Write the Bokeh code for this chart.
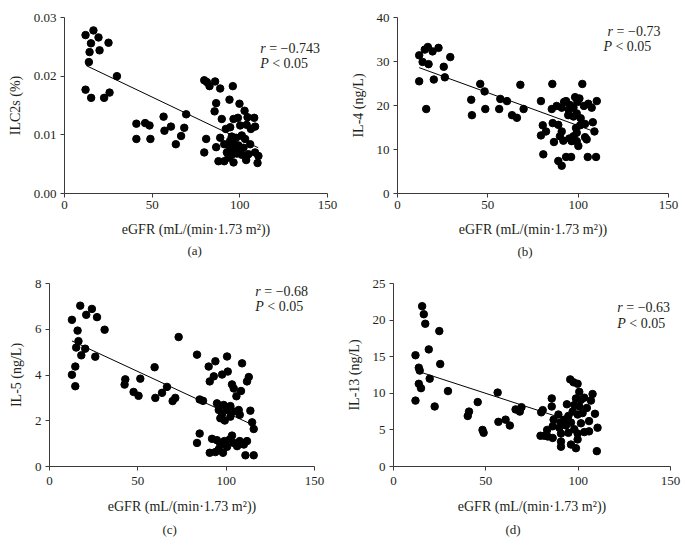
from bokeh.plotting import figure
from bokeh.layouts import column, row
from bokeh.models import Range1d, FixedTicker, PrintfTickFormatter, Label, Title
from bokeh.embed import file_html
from bokeh.resources import INLINE

FONT = "Liberation Serif"

# ---------------- data ----------------
x_ticks = [0, 50, 100, 150]

# (a) ILC2s (%)
a_egfr = [12.0, 16.5, 19.4, 15.1, 25.1, 14.3, 20.0, 13.9, 29.9, 12.0, 15.2, 22.6, 25.7,
          41.0, 41.0, 46.0, 48.5, 49.0, 56.5, 57.0, 60.7, 63.5, 66.5, 68.3, 69.4,
          79.7, 81.2, 82.7, 85.9, 88.8, 96.0, 86.5, 85.6, 94.1, 99.8, 102.7, 89.7, 96.4, 98.9,
          104.4, 108.2, 92.0, 94.5, 100.2, 103.9, 106.3, 108.7, 80.8, 88.8, 95.4, 97.9, 101.1,
          103.0, 86.5, 91.1, 94.1, 96.4, 99.2, 102.1, 105.9, 79.7, 92.6, 95.4, 98.3, 101.1,
          104.9, 108.7, 110.6, 87.8, 91.1, 96.4, 103.6, 110.1, 93.5, 97.3, 100.2, 94.5]
a_ilc2 = [0.0270, 0.0278, 0.0266, 0.0256, 0.0257, 0.0241, 0.0244, 0.0224, 0.0200, 0.0177, 0.0163, 0.0163, 0.0172,
          0.0119, 0.0093, 0.0120, 0.0116, 0.0093, 0.0131, 0.0107, 0.0114, 0.0084, 0.0098, 0.0112, 0.0135,
          0.0193, 0.0190, 0.0183, 0.0191, 0.0179, 0.0183, 0.0154, 0.0140, 0.0160, 0.0153, 0.0141, 0.0127, 0.0127, 0.0129,
          0.0130, 0.0129, 0.0110, 0.0113, 0.0116, 0.0117, 0.0110, 0.0114, 0.0093, 0.0095, 0.0097, 0.0095, 0.0099,
          0.0093, 0.0079, 0.0084, 0.0079, 0.0086, 0.0082, 0.0078, 0.0084, 0.0070, 0.0070, 0.0066, 0.0068, 0.0066,
          0.0067, 0.0070, 0.0064, 0.0055, 0.0055, 0.0053, 0.0057, 0.0052, 0.0061, 0.0075, 0.0073, 0.0090]
a_fit_x = [12.4, 110.5]
a_fit_y = [0.0218, 0.0078]
a_yticks = [0.0, 0.01, 0.02, 0.03]

# (b) IL-4 (ng/L)
b_egfr = [12.0, 15.1, 16.8, 19.4, 22.7, 29.2, 13.9, 17.2, 25.6, 12.0, 20.1, 26.2, 15.9,
          40.8, 41.2, 45.8, 48.2, 48.6, 56.3, 56.9, 60.6, 63.4, 66.1, 68.0, 69.8,
          85.7, 102.3, 79.4, 88.1, 85.4, 90.9, 93.3, 95.5, 98.3, 99.6, 100.7, 103.2, 105.6, 107.5,
          110.3, 97.4, 94.8, 99.2, 97.4, 94.5, 101.4, 103.8, 108.1, 109.0, 80.4, 82.2, 79.4, 85.9,
          89.0, 90.9, 89.9, 86.6, 91.8, 95.1, 97.4, 99.2, 98.8, 101.1, 96.4, 99.2, 100.1, 103.8,
          104.7, 80.7, 89.0, 90.9, 93.3, 96.1, 105.3, 109.9, 92.2]
b_il4 = [31.4, 32.7, 33.3, 32.3, 33.1, 31.0, 29.9, 29.4, 28.8, 25.5, 25.9, 26.4, 19.2,
         21.3, 17.8, 24.9, 23.2, 19.2, 19.2, 21.5, 21.0, 17.8, 17.2, 24.7, 19.2,
         24.9, 24.9, 21.0, 19.9, 19.2, 19.5, 21.0, 20.1, 21.9, 20.8, 21.6, 19.9, 20.4, 19.5,
         21.0, 19.5, 19.0, 18.2, 17.5, 17.8, 17.1, 15.8, 16.2, 14.1, 15.5, 14.1, 13.2, 16.0,
         15.6, 14.1, 13.0, 11.7, 12.0, 12.5, 13.0, 13.8, 14.9, 15.5, 11.9, 11.9, 10.8, 12.8,
         12.3, 8.9, 7.4, 6.3, 8.3, 8.3, 8.3, 8.3, 20.8]
b_fit_x = [12.0, 107.5]
b_fit_y = [28.6, 14.3]
b_yticks = [0, 10, 20, 30, 40]

# (c) IL-5 (ng/L)
c_egfr = [12.7, 17.4, 20.8, 24.0, 26.9, 15.9, 31.2, 16.4, 15.1, 20.2, 18.0, 25.9, 14.6, 12.7, 14.6,
          42.9, 42.5, 47.6, 50.4, 51.4, 59.5, 59.9, 63.7, 66.5, 69.7, 71.2, 73.1,
          83.5, 90.1, 93.9, 100.5, 100.9, 97.7, 93.0, 90.7, 103.3, 104.3, 109.0, 112.8, 111.8,
          108.4, 105.8, 85.0, 86.9, 94.8, 95.8, 97.7, 102.4, 98.6, 100.5, 104.3, 107.1, 107.7,
          102.4, 99.2, 96.7, 113.7, 114.7, 115.6,
          83.5, 85.0, 90.7, 92.0, 94.8, 95.8, 96.7, 98.2, 99.0, 100.5, 102.0, 103.3, 104.3,
          106.2, 107.7, 110.0, 111.8, 115.6, 110.9, 93.9]
c_il5 = [6.41, 7.03, 6.63, 6.89, 6.53, 5.94, 5.98, 5.48, 5.20, 5.15, 4.86, 4.80, 4.37, 4.01, 3.51,
         3.81, 3.58, 3.26, 3.09, 3.84, 4.34, 3.00, 3.22, 3.48, 2.86, 3.00, 5.66,
         4.89, 4.37, 4.60, 4.81, 4.15, 4.02, 3.94, 3.72, 3.59, 3.41, 4.51, 3.91, 3.72,
         3.30, 3.07, 2.93, 2.87, 2.76, 2.47, 2.30, 2.64, 2.69, 2.47, 2.40, 2.47, 2.26,
         2.18, 2.01, 2.11, 2.44, 1.93, 1.64,
         1.03, 1.44, 0.60, 1.21, 1.15, 0.75, 0.96, 0.60, 1.11, 0.86, 1.18, 1.35, 1.03,
         0.89, 1.11, 0.96, 1.11, 0.49, 0.49, 0.63]
c_fit_x = [12.7, 112.8]
c_fit_y = [5.49, 1.90]
c_yticks = [0, 2, 4, 6, 8]

# (d) IL-13 (ng/L)
d_egfr = [15.5, 16.4, 17.2, 24.8, 19.1, 11.9, 25.3, 13.7, 14.2, 19.6, 13.7, 14.9, 29.5, 11.9, 22.3,
          40.9, 40.2, 45.6, 48.2, 48.8, 56.4, 56.8, 60.7, 63.0, 66.1, 68.4, 69.3,
          95.7, 97.5, 99.7, 100.6, 107.8, 85.7, 106.9, 98.8, 101.5, 103.3, 93.9, 97.9, 100.6,
          85.7, 80.8, 80.0, 104.7, 89.3, 94.7, 97.0, 99.7, 102.4, 109.1, 86.7, 90.4, 92.5,
          96.1, 101.5, 105.9, 86.2, 89.8, 93.4, 97.9, 110.5, 90.7, 94.7, 99.7, 103.3, 105.9,
          79.6, 81.7, 83.2, 83.5, 86.2, 90.7, 90.7, 96.1, 98.8, 99.7, 110.1]
d_il13 = [21.9, 20.8, 19.5, 18.5, 16.0, 15.2, 14.0, 13.5, 13.1, 12.0, 11.3, 10.7, 10.3, 9.0, 8.2,
          7.5, 6.9, 8.8, 5.0, 4.6, 10.1, 6.1, 6.4, 5.6, 7.8, 7.5, 8.1,
          11.9, 11.5, 11.3, 10.2, 9.9, 9.3, 9.0, 9.3, 9.1, 9.4, 8.5, 8.4, 8.2,
          8.2, 7.7, 7.4, 8.0, 7.1, 6.9, 7.5, 7.1, 7.3, 7.2, 6.4, 6.0, 6.4,
          6.0, 5.9, 6.2, 5.5, 5.3, 5.6, 5.1, 5.3, 4.5, 4.6, 4.5, 4.7, 4.8,
          4.2, 4.2, 5.0, 4.1, 3.9, 3.4, 2.7, 3.0, 2.5, 3.7, 2.1]
d_fit_x = [14.5, 95.0]
d_fit_y = [12.9, 6.3]
d_yticks = [0, 5, 10, 15, 20, 25]

x_label = "eGFR (mL/(min\u00b71.73 m\u00b2))"


def panel(xs, ys, fx, fy, yticks, yfmt, ylabel, caption, r_txt, ann, width, height,
          borders, cap_offset, xstand):
    left, right, top, bottom = borders
    tick_sd, label_sd, title_sd = xstand
    p = figure(width=width, height=height, output_backend="svg", toolbar_location=None,
               x_range=Range1d(0, 150), y_range=Range1d(yticks[0], yticks[-1]),
               min_border_left=left, min_border_right=right,
               min_border_top=top, min_border_bottom=bottom)
    p.outline_line_color = None
    p.grid.visible = False
    p.background_fill_color = "white"
    p.border_fill_color = "white"
    p.line(fx, fy, line_color="black", line_width=1)
    p.scatter(xs, ys, size=7.5, fill_color="black", line_color="black")

    for ax in (p.xaxis[0], p.yaxis[0]):
        ax.axis_line_color = "#3a3a3a"
        ax.major_tick_line_color = "#3a3a3a"
        ax.minor_tick_line_color = None
        ax.major_tick_in = 0
        ax.major_tick_out = 4
        ax.major_label_text_font = FONT
        ax.major_label_text_font_size = "13px"
        ax.major_label_text_color = "#231f20"
        ax.axis_label_text_font = FONT
        ax.axis_label_text_font_size = "14px"
        ax.axis_label_text_font_style = "normal"
        ax.axis_label_text_color = "#231f20"
    p.xaxis.ticker = FixedTicker(ticks=x_ticks)
    p.yaxis.ticker = FixedTicker(ticks=yticks)
    p.yaxis.formatter = PrintfTickFormatter(format=yfmt)
    p.xaxis.axis_label = x_label
    p.yaxis.axis_label = ylabel
    p.xaxis.major_label_standoff = tick_sd
    p.xaxis.axis_label_standoff = label_sd
    p.yaxis.major_label_standoff = 4
    p.yaxis.axis_label_standoff = 8

    t = Title(text=caption, align="left", offset=cap_offset, text_font=FONT,
              text_font_size="13px", text_font_style="normal", text_color="#231f20",
              standoff=title_sd)
    p.add_layout(t, "below")

    (xr, yr, xp, yp, r_off, p_off) = ann
    p.add_layout(Label(x=xr, y=yr, text="r", text_font=FONT, text_font_size="14px",
                       text_font_style="italic", text_baseline="middle", text_color="#231f20"))
    p.add_layout(Label(x=xr, y=yr, x_offset=r_off, text="= " + r_txt, text_font=FONT,
                       text_font_size="14px", text_baseline="middle", text_color="#231f20"))
    p.add_layout(Label(x=xp, y=yp, text="P", text_font=FONT, text_font_size="14px",
                       text_font_style="italic", text_baseline="middle", text_color="#231f20"))
    p.add_layout(Label(x=xp, y=yp, x_offset=p_off, text="< 0.05", text_font=FONT,
                       text_font_size="14px", text_baseline="middle", text_color="#231f20"))
    return p


pa = panel(a_egfr, a_ilc2, a_fit_x, a_fit_y, a_yticks, "%.2f", "ILC2s (%)", "(a)",
           "\u22120.743", (111.6, 0.0248, 111.6, 0.0221, 9, 12), 343, 274, (64, 16, 17, 81), 123,
           (3, 10, 3))
pb = panel(b_egfr, b_il4, b_fit_x, b_fit_y, b_yticks, "%d", "IL-4 (ng/L)", "(b)",
           "\u22120.73", (116.3, 36.8, 114.0, 33.5, 9, 12), 343, 274, (54, 18, 14, 81), 120,
           (3, 10, 5))
pc = panel(c_egfr, c_il5, c_fit_x, c_fit_y, c_yticks, "%d", "IL-5 (ng/L)", "(c)",
           "\u22120.68", (116.5, 7.65, 116.5, 7.0, 9, 12), 343, 282, (49, 29, 9, 87), 113,
           (6, 11, 6))
pd_ = panel(d_egfr, d_il13, d_fit_x, d_fit_y, d_yticks, "%d", "IL-13 (ng/L)", "(d)",
            "\u22120.63", (121.2, 21.7, 121.2, 19.5, 9, 12), 343, 282, (48, 16, 5, 90), 112,
            (6, 11, 7))

layout = column(row(pa, pb), row(pc, pd_))
open("out.html", "w").write(file_html(layout, INLINE))
